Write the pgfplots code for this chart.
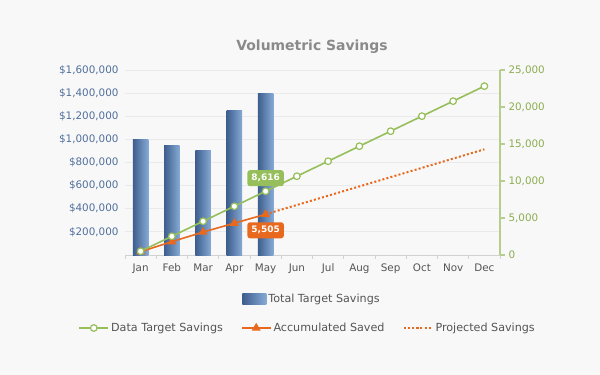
\documentclass[border=0pt]{standalone}
\usepackage{fontspec}
\setmainfont{DejaVu Sans}
\usepackage{pgfplots}
\pgfplotsset{compat=1.18}
\definecolor{bg}{HTML}{F8F8F8}
\definecolor{gridc}{HTML}{EAEAEA}
\definecolor{barL}{HTML}{3E5E8D}
\definecolor{barR}{HTML}{86AAD6}
\definecolor{gline}{HTML}{96BE5A}
\definecolor{gaxis}{HTML}{B5CD8D}
\definecolor{gtext}{HTML}{8BAD50}
\definecolor{oline}{HTML}{E8691E}
\definecolor{ylab}{HTML}{4F6E9C}
\definecolor{txt}{HTML}{555555}
\definecolor{ttl}{HTML}{8A8A8A}
\begin{document}
\begin{tikzpicture}
\fill[bg] (-125bp,-120bp) rectangle (475bp,255bp);
\pgfplotsset{
  base/.style={scale only axis, width=375bp, height=185bp, xmin=-0.5, xmax=11.5,
    clip=false,
    /pgf/number format/assume math mode=true,
    tick label style={font=\fontsize{10.4}{12}\selectfont},
  },
  barstyle/.style={ybar, bar width=15.6bp, bar shift=0pt, draw=none, left color=barL, right color=barR},
}
\begin{axis}[base, ymin=0, ymax=1600000,
  axis x line*=bottom, axis y line*=left,
  y axis line style={draw=none}, x axis line style={draw=black!18, -},
  scaled y ticks=false,
  ytick={200000,400000,600000,800000,1000000,1200000,1400000,1600000},
  yticklabels={{\$200,000},{\$400,000},{\$600,000},{\$800,000},{\$1,000,000},{\$1,200,000},{\$1,400,000},{\$1,600,000}},
  yticklabel style={text=ylab, xshift=-3bp},
  ymajorgrids, grid style={gridc, line width=0.8bp},
  xtick={0,...,11},
  xticklabels={Jan,Feb,Mar,Apr,May,Jun,Jul,Aug,Sep,Oct,Nov,Dec},
  xticklabel style={text=txt, yshift=-5bp},
  minor xtick={-0.5,0.5,1.5,2.5,3.5,4.5,5.5,6.5,7.5,8.5,9.5,10.5,11.5},
  major tick length=0pt, minor tick length=4bp, tick align=outside,
  minor tick style={draw=black!18, line width=0.8bp},
  legend style={at={(0.4987,-0.238)}, anchor=center, draw=none, fill=none,
    font=\fontsize{11.2}{13}\selectfont, text=txt},
]
\addplot[barstyle, legend image code/.code={\shade[left color=barL,right color=barR] (0bp,-5.5bp) rectangle (24bp,5.5bp);}] coordinates {(0,1000000)};
\addlegendentry{Total Target Savings}
\addplot[barstyle, forget plot] coordinates {(1,950000)};
\addplot[barstyle, forget plot] coordinates {(2,900000)};
\addplot[barstyle, forget plot] coordinates {(3,1250000)};
\addplot[barstyle, forget plot] coordinates {(4,1400000)};
\end{axis}
\begin{axis}[base, ymin=0, ymax=25000,
  axis x line=none, axis y line*=right,
  y axis line style={draw=gaxis, line width=1.5bp, -},
  ytick={0,5000,10000,15000,20000,25000},
  tick align=outside, major tick length=5bp,
  ytick style={draw=gaxis, line width=1.2bp},
  yticklabel style={text=gtext},
  scaled y ticks=false,
  /pgf/number format/1000 sep={,},
  legend style={at={(0.487,-0.3946)}, anchor=center, draw=none, fill=none,
    font=\fontsize{11.2}{13}\selectfont, text=txt, legend columns=3,
    /tikz/every even column/.append style={column sep=16bp}},
  legend image code/.code={\draw[mark repeat=2,mark phase=2,#1] plot coordinates {(0bp,0bp) (14.5bp,0bp) (29bp,0bp)};},
]
\addlegendimage{gline, line width=1.6bp, mark=*, mark options={fill=white, draw=gline, line width=1.2bp}, mark size=3.3bp}
\addlegendentry{Data Target Savings}
\addlegendimage{oline, line width=1.6bp, mark=triangle*, mark size=3.6bp, mark options={fill=oline, draw=oline}}
\addlegendentry{Accumulated Saved}
\addlegendimage{oline, line width=2bp, dash pattern=on 2bp off 2.2bp}
\addlegendentry{Projected Savings}
% projected
\addplot[forget plot, oline, line width=2bp, dash pattern=on 2bp off 2.2bp] coordinates {
(4,5505) (5,6759) (6,8013) (7,9267) (8,10521) (9,11775) (10,13029) (11,14283)};
% accumulated
\addplot[forget plot, oline, line width=1.6bp, mark=triangle*, mark size=3.6bp, mark options={fill=oline, draw=oline}] coordinates {
(0,450) (1,1800) (2,3100) (3,4300) (4,5505)};
% data target
\addplot[forget plot, gline, line width=1.6bp, mark=*, mark options={fill=white, draw=gline, line width=1.2bp}, mark size=3.3bp] coordinates {
(0,500) (1,2529) (2,4558) (3,6587) (4,8616) (5,10645) (6,12674) (7,14703) (8,16732) (9,18761) (10,20790) (11,22819)};
\node[fill=gline, rounded corners=2.5bp, text=white, font=\fontsize{9}{10}\selectfont\bfseries, inner xsep=4bp, inner ysep=3bp, minimum height=16bp] at (axis cs:4,8616) [yshift=13bp] {8,616};
\node[fill=oline, rounded corners=2.5bp, text=white, font=\fontsize{9}{10}\selectfont\bfseries, inner xsep=4bp, inner ysep=3bp, minimum height=16bp] at (axis cs:4,5505) [yshift=-16bp] {5,505};
\node[font=\fontsize{14}{16}\selectfont\bfseries, text=ttl] at (rel axis cs:0.4987,1.124) {Volumetric Savings};
\end{axis}
\end{tikzpicture}
\end{document}
